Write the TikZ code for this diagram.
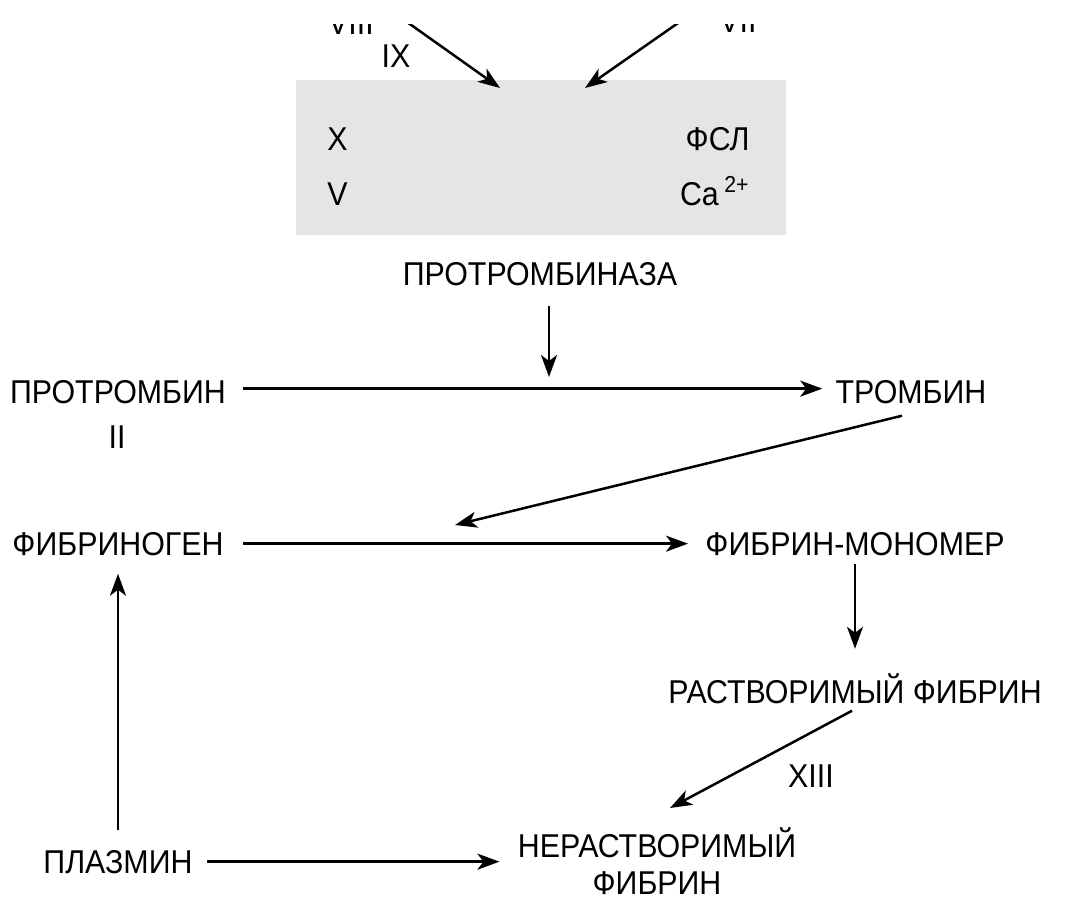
\documentclass[tikz,border=0pt]{standalone}
\usepackage{fontspec}
\setmainfont[FakeStretch=0.92]{Liberation Sans}
\usetikzlibrary{arrows.meta}
\definecolor{complexgray}{gray}{0.9}

\begin{document}
\begin{tikzpicture}[x=0.5pt, y=-0.5pt,
  lbl/.style={inner sep=0pt, font=\fontsize{16.5}{18.5}\selectfont},
  arr/.style={line width=1.25pt, -{Stealth[length=11pt, width=8pt, inset=3pt]}}]

  % frame
  \useasboundingbox (0,0) rectangle (1068,899);

  % grey complex
  \fill [complexgray] (296,80) rectangle (786,235);

  % factors coming in from above (cut at the top)
  \begin{scope}
    \clip (0,25) rectangle (1068,899);
    \node [lbl, anchor=base] (viii) at (351,  35)  {VIII};
    \node [lbl, anchor=base] (vii)  at (738,  33)  {VII};
    \coordinate (fromleft)  at (376, 0);
    \coordinate (fromright) at (711, 0);
    \coordinate (inleft)    at (500, 88);
    \coordinate (inright)   at (585, 88);
    \draw [arr] (fromleft)  -- (inleft);
    \draw [arr] (fromright) -- (inright);
  \end{scope}
  \node [lbl, anchor=base] (ix) at (396,  68)  {IX};

  % members of the complex
  \node [lbl, anchor=base west] (fx)  at (327, 150) {X};
  \node [lbl, anchor=base west] (fv)  at (327, 205) {V};
  \node [lbl, anchor=base east] (fsl) at (750, 150) {ФСЛ};
  \node [lbl, anchor=base east] (ca)  at (750, 205) {Ca\,\textsuperscript{2+}};

  % substances
  \node [lbl, anchor=base] (prothrombinase) at (540, 285) {ПРОТРОМБИНАЗА};
  \node [lbl, anchor=base] (prothrombin)    at (118, 403) {ПРОТРОМБИН};
  \node [lbl, anchor=base] (factorii)       at (117, 448) {II};
  \node [lbl, anchor=base] (thrombin)       at (911, 403) {ТРОМБИН};
  \node [lbl, anchor=base] (fibrinogen)     at (118, 555) {ФИБРИНОГЕН};
  \node [lbl, anchor=base] (monomer)        at (855, 555) {ФИБРИН-МОНОМЕР};
  \node [lbl, anchor=base] (soluble)        at (855, 703) {РАСТВОРИМЫЙ ФИБРИН};
  \node [lbl, anchor=base] (xiii)           at (811, 787) {XIII};
  \node [lbl, align=center] (insoluble)     at (657, 861) {НЕРАСТВОРИМЫЙ\\ФИБРИН};
  \node [lbl, anchor=base] (plasmin)        at (118, 873) {ПЛАЗМИН};

  % arrows
  \coordinate (onprothrombin) at (549, 377);
  \coordinate (onfibrinogen)  at (455, 525);
  \coordinate (toinsoluble)   at (670, 808);
  \draw [arr, shorten <=10pt]                (prothrombinase.south -| onprothrombin) -- (onprothrombin);
  \draw [arr, shorten <=8.5pt, shorten >=6.5pt] ([yshift=1.5pt]prothrombin.east) -- ([yshift=1.5pt]thrombin.west);
  \draw [arr]                                ([xshift=-4.5pt, yshift=-6pt]thrombin.south) -- (onfibrinogen);
  \draw [arr, shorten <=9.5pt, shorten >=8.5pt] (fibrinogen) -- (monomer);
  \draw [arr, shorten <=4pt, shorten >=12pt] (monomer.south) -- (soluble.north);
  \draw [arr]                                ([xshift=-1.5pt, yshift=-3.5pt]soluble.south) -- (toinsoluble);
  \draw [arr, shorten <=7pt, shorten >=9pt]  (plasmin) -- (plasmin -| insoluble.west);
  \draw [arr, shorten <=10pt, shorten >=9pt] (plasmin) -- (fibrinogen);

\end{tikzpicture}
\end{document}
